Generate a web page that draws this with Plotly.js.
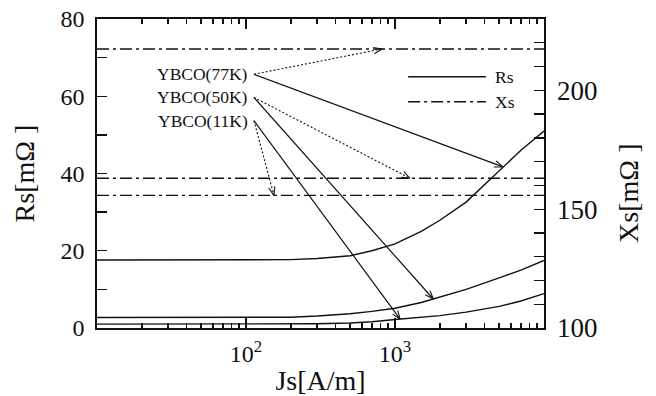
<!DOCTYPE html>
<html>
<head>
<meta charset="utf-8">
<script src="https://cdn.plot.ly/plotly-3.0.1.min.js"></script>
<style>
  html, body { margin: 0; padding: 0; background: #fff; }
  #chart { width: 656px; height: 396px; }
</style>
</head>
<body>
<div id="chart"></div>
<script>
// Surface resistance Rs and reactance Xs of YBCO versus surface current density Js
const js = [10, 20, 50, 100, 200, 300, 500, 700, 1000, 1500, 2000, 3000, 5000, 7000, 10000];
const rs77 = [17.6, 17.6, 17.6, 17.6, 17.7, 18.0, 18.7, 20.0, 21.8, 25.0, 27.9, 32.6, 40.8, 46.0, 51.0];
const rs50 = [2.7, 2.7, 2.7, 2.7, 2.8, 3.1, 3.7, 4.3, 5.1, 6.6, 8.0, 10.0, 13.0, 15.0, 17.5];
const rs11 = [1.0, 1.0, 1.0, 1.0, 1.0, 1.1, 1.3, 1.6, 2.2, 2.8, 3.2, 4.1, 5.6, 7.0, 8.9];

const xsJs = [10, 10000];
const xs77 = [217.4, 217.4];
const xs50 = [163.0, 163.0];
const xs11 = [155.8, 155.8];

// labels and where their arrows land
const sampleNames = ['YBCO(77K)', 'YBCO(50K)', 'YBCO(11K)'];
const labelJs = [113, 113, 113];
const labelRs = [65.7, 59.7, 53.7];
const rsArrowJs = [5300, 1807, 1082];
const xsArrowJs = [818, 1260, 154];

const xTickVals = [100, 1000];
const xTickText = ['10<sup>2</sup>', '10<sup>3</sup>'];
const y2TickVals = [100, 150, 200];

const RS_RANGE = [0, 80];
const XS_RANGE = [100, 230];
const X_RANGE = [1, 4];
const FONT = '"Liberation Serif", "Times New Roman", serif';
const INK = '#111';
const W = 656, H = 396;
const M = { l: 97, r: 112, t: 19, b: 68 };

// Xs value expressed on the Rs axis (both axes are linear and share the plot height)
function xsToRs(v) {
  return RS_RANGE[0] + (v - XS_RANGE[0]) * (RS_RANGE[1] - RS_RANGE[0]) / (XS_RANGE[1] - XS_RANGE[0]);
}
// value of a series at Js, interpolated in log(Js)
function interp(xArr, yArr, x) {
  const lx = Math.log10(x);
  for (let i = 0; i < xArr.length - 1; i++) {
    const a = Math.log10(xArr[i]), b = Math.log10(xArr[i + 1]);
    if (lx >= a && lx <= b) {
      const f = (lx - a) / (b - a);
      return yArr[i] + f * (yArr[i + 1] - yArr[i]);
    }
  }
  return yArr[yArr.length - 1];
}

const rsSeries = [rs77, rs50, rs11];
const xsSeries = [xs77, xs50, xs11];

const lineStyle = { color: INK, width: 1.4 };
const dashDot = { color: INK, width: 1.4, dash: '12px,4px,3px,4px' };

const traces = [];
rsSeries.forEach((s, i) => {
  traces.push({ x: js, y: s, type: 'scatter', mode: 'lines', line: lineStyle,
    name: 'Rs ' + sampleNames[i], showlegend: false, hoverinfo: 'skip' });
});
xsSeries.forEach((s, i) => {
  traces.push({ x: xsJs, y: s, type: 'scatter', mode: 'lines', line: dashDot,
    xaxis: 'x2', yaxis: 'y2',
    name: 'Xs ' + sampleNames[i], showlegend: false, hoverinfo: 'skip' });
});

// pixel scales of the plotting area, used to shape the open arrowheads
const plotW = W - M.l - M.r, plotH = H - M.t - M.b;
const pxPerDecade = plotW / (X_RANGE[1] - X_RANGE[0]);
const pxPerRs = plotH / (RS_RANGE[1] - RS_RANGE[0]);
const HEAD_LEN = 9, HEAD_HALF = 0.36; // arm length in px, half-angle in radians

function arrow(tailX, tailY, tipX, tipY, dotted) {
  const w = dotted ? 1.1 : 1.2;
  traces.push({ x: [tailX, tipX], y: [tailY, tipY], type: 'scatter', mode: 'lines',
    line: { color: INK, width: w, dash: dotted ? '2px,2px' : 'solid' },
    showlegend: false, hoverinfo: 'skip' });
  // direction from the tip back towards the tail, in screen pixels (y up)
  const dx = (Math.log10(tailX) - Math.log10(tipX)) * pxPerDecade;
  const dy = (tailY - tipY) * pxPerRs;
  const ang = Math.atan2(dy, dx);
  const arm = s => {
    const a = ang + s * HEAD_HALF;
    return [Math.pow(10, Math.log10(tipX) + HEAD_LEN * Math.cos(a) / pxPerDecade),
            tipY + HEAD_LEN * Math.sin(a) / pxPerRs];
  };
  const p1 = arm(1), p2 = arm(-1);
  traces.push({ x: [p1[0], tipX, p2[0]], y: [p1[1], tipY, p2[1]], type: 'scatter', mode: 'lines',
    line: { color: INK, width: 1.1 }, showlegend: false, hoverinfo: 'skip' });
}

const annotations = [];
sampleNames.forEach((name, i) => {
  const tx = labelJs[i], ty = labelRs[i];
  arrow(tx, ty, rsArrowJs[i], interp(js, rsSeries[i], rsArrowJs[i]), false);
  arrow(tx, ty, xsArrowJs[i], xsToRs(interp(xsJs, xsSeries[i], xsArrowJs[i])), true);
  annotations.push({ x: Math.log10(tx), y: ty, xref: 'x', yref: 'y', text: name,
    showarrow: false, xanchor: 'right', yanchor: 'middle', xshift: -4,
    font: { family: FONT, size: 17.5, color: INK } });
});

// legend key drawn inside the frame, and the Xs axis title
annotations.push(
  { x: 0.886, y: 0.813, xref: 'paper', yref: 'paper', text: 'Rs', showarrow: false,
    xanchor: 'left', yanchor: 'middle', font: { family: FONT, size: 17.5, color: INK } },
  { x: 0.886, y: 0.732, xref: 'paper', yref: 'paper', text: 'Xs', showarrow: false,
    xanchor: 'left', yanchor: 'middle', font: { family: FONT, size: 17.5, color: INK } },
  { x: 1.19, y: 0.437, xref: 'paper', yref: 'paper', text: 'Xs[mΩ ]', showarrow: false,
    textangle: -90, xanchor: 'center', yanchor: 'middle',
    font: { family: FONT, size: 28, color: INK } }
);
const shapes = [
  { type: 'line', xref: 'paper', yref: 'paper', x0: 0.696, x1: 0.870, y0: 0.813, y1: 0.813,
    line: { color: INK, width: 1.4 } },
  { type: 'line', xref: 'paper', yref: 'paper', x0: 0.696, x1: 0.870, y0: 0.732, y1: 0.732,
    line: dashDot }
];

const minorX = [];
[10, 100, 1000].forEach(d => { for (let k = 2; k <= 9; k++) minorX.push(d * k); });

const layout = {
  width: W, height: H,
  margin: M,
  paper_bgcolor: '#fff', plot_bgcolor: '#fff',
  font: { family: FONT, color: INK },
  showlegend: false,
  xaxis: {
    type: 'log', range: X_RANGE,
    showgrid: false, zeroline: false,
    showline: true, linecolor: INK, linewidth: 1.6, mirror: true,
    ticks: 'inside', ticklen: 10, tickwidth: 1.5, tickcolor: INK,
    tickmode: 'array', tickvals: xTickVals, ticktext: xTickText,
    minor: { dtick: 'D1', ticks: 'inside', ticklen: 5, tickwidth: 1.5, tickcolor: INK, showgrid: false },
    tickfont: { family: FONT, size: 24, color: INK },
    ticklabelstandoff: 4,
    title: { text: 'Js[A/m]', font: { family: FONT, size: 28, color: INK }, standoff: 6 }
  },
  // top edge: same log scale, ticks only
  xaxis2: {
    type: 'log', range: X_RANGE, overlaying: 'x', side: 'top', anchor: 'y',
    showgrid: false, zeroline: false, showline: false, showticklabels: false,
    ticks: 'inside', ticklen: 10, tickwidth: 1.5, tickcolor: INK, dtick: 1,
    minor: { tickmode: 'array', tickvals: minorX, ticks: 'inside', ticklen: 5, tickwidth: 1.5, tickcolor: INK, showgrid: false }
  },
  yaxis: {
    range: RS_RANGE, dtick: 20, tick0: 0,
    showgrid: false, zeroline: false,
    showline: true, linecolor: INK, linewidth: 1.6,
    ticks: 'inside', ticklen: 10, tickwidth: 1.3, tickcolor: INK,
    tickfont: { family: FONT, size: 24, color: INK },
    ticklabelstandoff: 6,
    minor: { dtick: 10, ticks: 'inside', ticklen: 10, tickwidth: 1.3, tickcolor: INK, showgrid: false },
    title: { text: 'Rs[mΩ ]', font: { family: FONT, size: 28, color: INK }, standoff: 18 }
  },
  yaxis2: {
    overlaying: 'y', side: 'right', anchor: 'x', range: XS_RANGE,
    showgrid: false, zeroline: false,
    showline: true, linecolor: INK, linewidth: 1.6,
    ticks: 'inside', ticklen: 10, tickwidth: 1.3, tickcolor: INK,
    tickmode: 'array', tickvals: y2TickVals,
    tickfont: { family: FONT, size: 27, color: INK },
    ticklabelstandoff: 6,
    minor: { dtick: 10, tick0: 100, ticks: 'inside', ticklen: 10, tickwidth: 1.3, tickcolor: INK, showgrid: false }
  },
  annotations: annotations,
  shapes: shapes
};

Plotly.newPlot('chart', traces, layout, { staticPlot: true, displayModeBar: false });
</script>
</body>
</html>
